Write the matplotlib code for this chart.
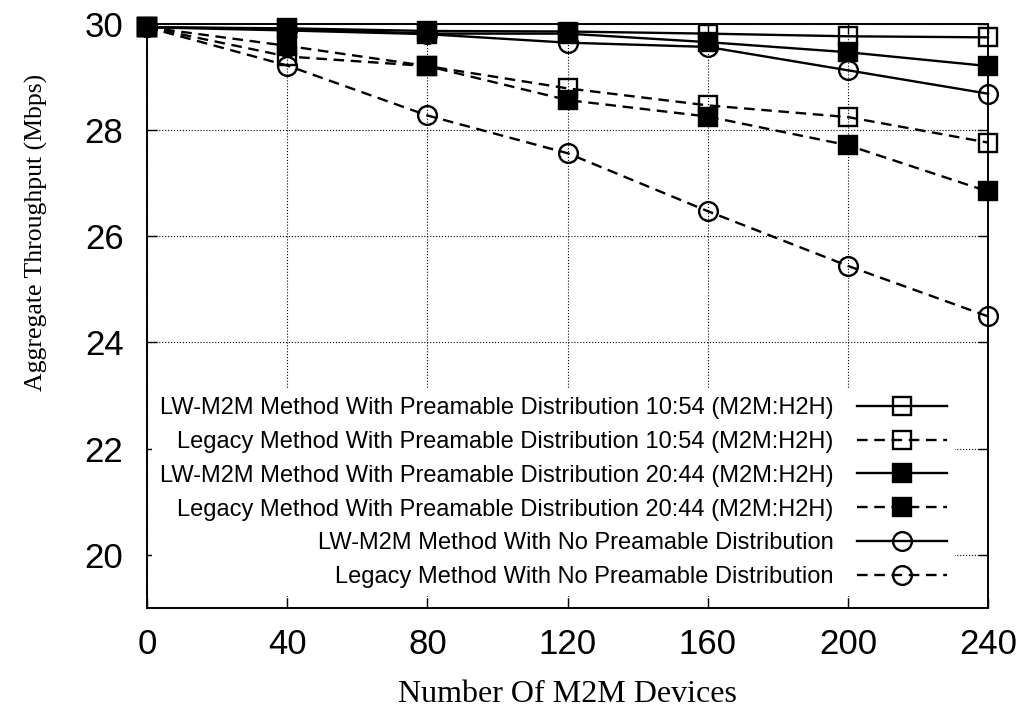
import matplotlib
matplotlib.use('Agg')
import matplotlib.pyplot as plt

# number of M2M devices
devices = [0, 40, 80, 120, 160, 200, 240]

# aggregate throughput (Mbps)
lw_1054 = [29.93, 29.91, 29.86, 29.85, 29.81, 29.76, 29.74]
legacy_1054 = [29.93, 29.38, 29.20, 28.78, 28.46, 28.24, 27.76]
lw_2044 = [29.93, 29.90, 29.81, 29.81, 29.65, 29.46, 29.20]
legacy_2044 = [29.93, 29.58, 29.20, 28.56, 28.25, 27.71, 26.84]
lw_none = [29.93, 29.87, 29.80, 29.64, 29.56, 29.12, 28.68]
legacy_none = [29.93, 29.21, 28.27, 27.56, 26.47, 25.44, 24.49]

labels = [
    "LW-M2M Method With Preamable Distribution 10:54 (M2M:H2H)",
    "Legacy Method With Preamable Distribution 10:54 (M2M:H2H)",
    "LW-M2M Method With Preamable Distribution 20:44 (M2M:H2H)",
    "Legacy Method With Preamable Distribution 20:44 (M2M:H2H)",
    "LW-M2M Method With No Preamable Distribution",
    "Legacy Method With No Preamable Distribution",
]

xticks = [0, 40, 80, 120, 160, 200, 240]
yticks = [20, 22, 24, 26, 28, 30]

dash = (0, (4.5, 2.8))
series = [
    (lw_1054, '-', 's', 'none'),
    (legacy_1054, dash, 's', 'none'),
    (lw_2044, '-', 's', 'black'),
    (legacy_2044, dash, 's', 'black'),
    (lw_none, '-', 'o', 'none'),
    (legacy_none, dash, 'o', 'none'),
]

fig = plt.figure(figsize=(10.24, 7.13), dpi=100)
ax = fig.add_axes([0.1436, 0.147, 0.8213, 0.820])

for (vals, ls, mk, fc), lab in zip(series, labels):
    ax.plot(devices, vals, linestyle=ls, marker=mk, color='black',
            markerfacecolor=fc, markeredgecolor='black', markersize=13.5,
            markeredgewidth=1.7, linewidth=1.7, label=lab, clip_on=False)

ax.set_xlim(0, 240)
ax.set_ylim(19, 30)
ax.set_xticks(xticks)
ax.set_yticks(yticks)
ax.grid(True, linestyle=':', color='black', linewidth=0.8)
ax.tick_params(direction='in', length=7, width=1, top=True, right=True,
               labelsize=25)
ax.tick_params(axis='x', pad=14)
ax.tick_params(axis='y', pad=17)
for lbl in ax.get_xticklabels() + ax.get_yticklabels():
    lbl.set_family('Liberation Sans')
for s in ax.spines.values():
    s.set_linewidth(1.4)

ax.set_xlabel("Number Of M2M Devices", family='Liberation Serif', fontsize=23, labelpad=14)
ax.set_ylabel("Aggregate Throughput (Mbps)", family='Liberation Serif', fontsize=18.5)
ax.yaxis.set_label_coords(-0.118, 0.643)

leg = ax.legend(loc='lower right', bbox_to_anchor=(0.975, 0.0), markerfirst=False,
                frameon=True, fancybox=False, framealpha=1, edgecolor='none',
                facecolor='white', prop={'family': 'Liberation Sans', 'size': 17},
                handlelength=3.8, handletextpad=1.0, labelspacing=0.5, borderpad=0.35)

fig.savefig('out.png', dpi=100)
